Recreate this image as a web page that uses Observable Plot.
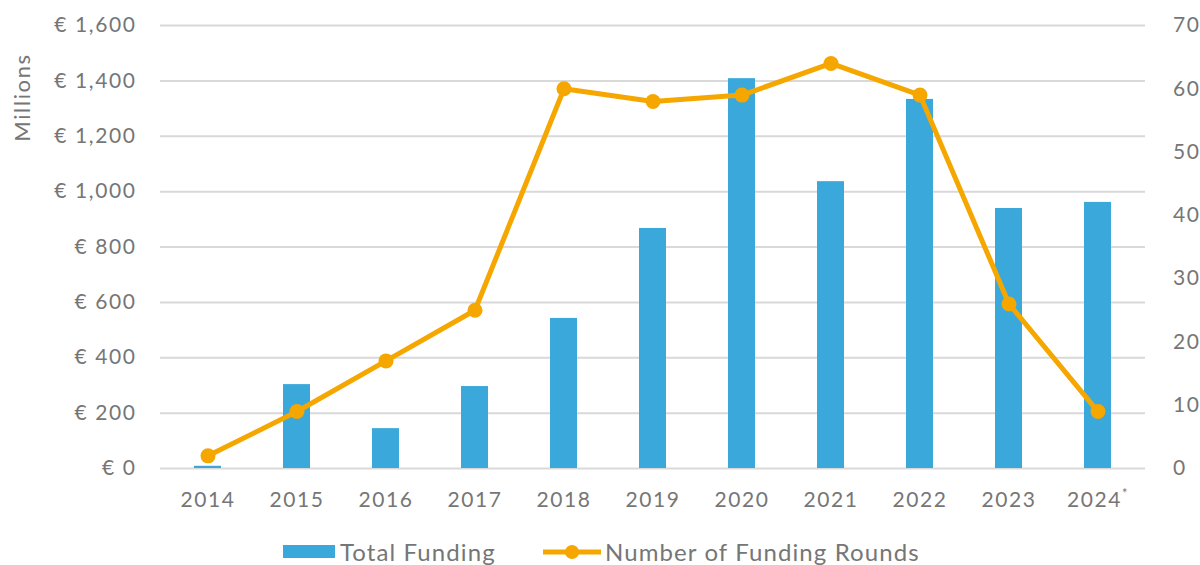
<!DOCTYPE html>
<html>
<head>
<meta charset="utf-8">
<script src="https://cdn.jsdelivr.net/npm/d3@7"></script>
<script src="https://cdn.jsdelivr.net/npm/@observablehq/plot@0.6"></script>
<style>
  html, body { margin: 0; padding: 0; background: #fff; overflow: hidden; }
  body { width: 1200px; height: 565px; position: relative; font-family: Lato, "Open Sans", sans-serif; }
  #legend { position: absolute; left: 0; top: 530px; width: 1200px; height: 40px; color: #767676; font-size: 24px; letter-spacing: 1.1px; }
  .item { position: absolute; top: 7px; display: flex; align-items: center; white-space: nowrap; }
  svg text { letter-spacing: 1.6px; }
</style>
</head>
<body>
<div id="chart"></div>
<div id="legend">
  <div class="item" style="left:283px"><svg width="54" height="16"><rect x="0" y="1" width="52" height="13" fill="#3AA8DA"/></svg><span style="margin-left:3px">Total Funding</span></div>
  <div class="item" style="left:543px"><svg width="60" height="16"><line x1="0" x2="58" y1="8" y2="8" stroke="#F5A700" stroke-width="5"/><circle cx="29" cy="8" r="7" fill="#F5A700"/></svg><span style="margin-left:2px">Number of Funding Rounds</span></div>
</div>
<script>
const years = ["2014","2015","2016","2017","2018","2019","2020","2021","2022","2023","2024*"];
const funding = [8, 303, 144, 296, 542, 867, 1408, 1036, 1333, 939, 961];
const rounds = [2, 9, 17, 25, 60, 58, 59, 64, 59, 26, 9];
const leftTicks = [0, 200, 400, 600, 800, 1000, 1200, 1400, 1600];
const rightTicks = [0, 10, 20, 30, 40, 50, 60, 70];

const leftMax = 1600, rightMax = 70;
const k = leftMax / rightMax;
const data = years.map((y, i) => ({year: y, funding: funding[i], rounds: rounds[i], scaled: rounds[i] * k}));

const fmt = d3.format(",");
const chart = Plot.plot({
  width: 1200,
  height: 530,
  marginLeft: 160,
  marginRight: 55,
  marginTop: 25,
  marginBottom: 62,
  style: {fontFamily: "Lato, 'Open Sans', sans-serif", fontSize: "21px", color: "#767676", background: "#fff"},
  x: {domain: years, padding: 0, label: null},
  y: {domain: [0, leftMax], label: null},
  marks: [
    Plot.gridY(leftTicks, {stroke: "#d9d9d9", strokeOpacity: 1, strokeWidth: 2}),
    Plot.barY(data, {x: "year", y: "funding", fill: "#3AA8DA", insetLeft: 31, insetRight: 31}),
    Plot.lineY(data, {x: "year", y: "scaled", stroke: "#F5A700", strokeWidth: 5}),
    Plot.dot(data, {x: "year", y: "scaled", fill: "#F5A700", r: 7.5}),
    Plot.axisY(leftTicks, {anchor: "left", tickSize: 0, tickPadding: 24, tickFormat: d => "€ " + fmt(d), label: null}),
    Plot.axisY(rightTicks.map(v => v * k), {anchor: "right", tickSize: 0, tickPadding: 22, dx: 5.5, tickFormat: d => String(Math.round(d / k)), label: null}),
    Plot.axisX({tickSize: 0, tickPadding: 24, label: null}),
    Plot.text(["Millions"], {frameAnchor: "top-left", text: d => d, rotate: -90, dx: -146, dy: 72, fontSize: 22, fill: "#767676", textAnchor: "middle"})
  ]
});
document.getElementById("chart").appendChild(chart);
chart.querySelectorAll("text").forEach(t => {
  if (t.textContent === "2024*") {
    t.textContent = "2024";
    const ts = document.createElementNS("http://www.w3.org/2000/svg", "tspan");
    ts.setAttribute("dy", "-9");
    ts.setAttribute("font-size", "13");
    ts.textContent = "*";
    t.appendChild(ts);
  }
});
</script>
</body>
</html>
